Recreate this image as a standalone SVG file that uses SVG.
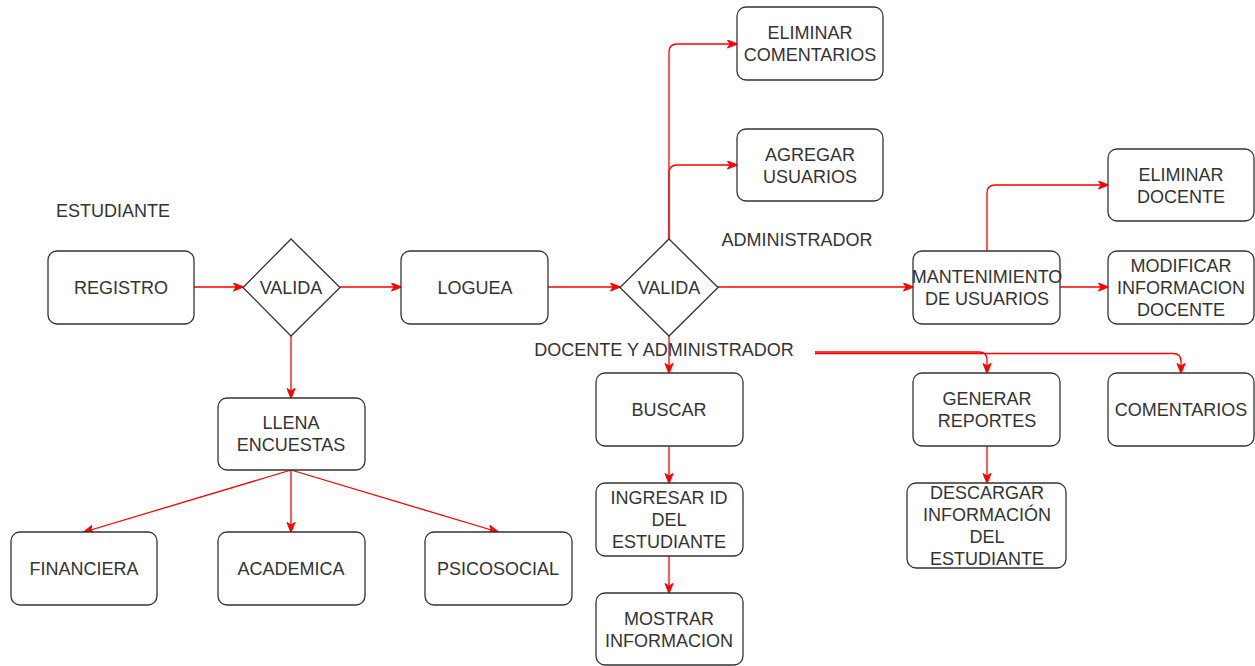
<svg xmlns="http://www.w3.org/2000/svg" width="1255" height="666" viewBox="0 0 1255 666">
<style>
.box{fill:#fff;stroke:#333;stroke-width:1.3}
.t{font-family:"Liberation Sans",Arial,sans-serif;font-size:18px;fill:#333;text-anchor:middle}
.e{fill:none;stroke:#ff0000;stroke-width:1.3;marker-end:url(#arr)}
.ln{fill:none;stroke:#ff0000;stroke-width:1.3}
</style>
<defs>
<marker id="arr" markerWidth="12" markerHeight="10" refX="10" refY="4.5" orient="auto" markerUnits="userSpaceOnUse">
<path d="M0.5,0.5 L10.5,4.5 L0.5,8.5 L3,4.5 z" fill="#ff0000" stroke="#ff0000" stroke-width="1"/>
</marker>
</defs>
<rect width="1255" height="666" fill="#fff"/>

<g id="connectors">
<path class="e" d="M194,287 L243,287"/>
<path class="e" d="M340,287 L401,287"/>
<path class="e" d="M291,336 L291,398"/>
<path class="e" d="M291,470 L84,532"/>
<path class="e" d="M291,470 L291,532"/>
<path class="e" d="M291,470 L498,532"/>
<path class="e" d="M548,287 L620,287"/>
<path class="e" d="M669,239 L669,52 Q669,44 677,44 L737,44"/>
<path class="e" d="M669,239 L669,173 Q669,165 677,165 L737,165"/>
<path class="e" d="M718,287 L913,287"/>
<path class="e" d="M987,251 L987,193 Q987,185 995,185 L1108,185"/>
<path class="e" d="M1060,287 L1108,287"/>
<path class="e" d="M669,336 L669,373"/>
<path class="e" d="M815,352 L979,352 Q987,352 987,360 L987,373"/>
<path class="e" d="M815,353.5 L1173,353.5 Q1181,353.5 1181,361.5 L1181,373"/>
<path class="e" d="M669,446 L669,483"/>
<path class="e" d="M669,556 L669,593"/>
<path class="e" d="M987,446 L987,483"/>
</g>

<g id="lbl-estudiante"><text class="t" x="113" y="217">ESTUDIANTE</text></g>
<g id="lbl-administrador"><text class="t" x="797" y="246">ADMINISTRADOR</text></g>
<g id="lbl-docente-admin"><text class="t" x="664" y="356">DOCENTE Y ADMINISTRADOR</text></g>

<g id="registro"><rect class="box" x="48" y="251" width="146" height="73" rx="9"/><text class="t" x="121" y="294">REGISTRO</text></g>
<g id="valida1"><polygon class="box" points="291,239 340,287.5 291,336 243,287.5"/><text class="t" x="291" y="294">VALIDA</text></g>
<g id="loguea"><rect class="box" x="401" y="251" width="147" height="73" rx="9"/><text class="t" x="475" y="294">LOGUEA</text></g>
<g id="valida2"><polygon class="box" points="669,239 718,287.5 669,336 620,287.5"/><text class="t" x="669" y="294">VALIDA</text></g>
<g id="eliminar-comentarios"><rect class="box" x="737" y="7" width="146" height="73" rx="9"/><text class="t" x="810" y="39">ELIMINAR</text><text class="t" x="810" y="61">COMENTARIOS</text></g>
<g id="agregar-usuarios"><rect class="box" x="737" y="129" width="146" height="72" rx="9"/><text class="t" x="810" y="161">AGREGAR</text><text class="t" x="810" y="183">USUARIOS</text></g>
<g id="mantenimiento"><rect class="box" x="913" y="251" width="147" height="73" rx="9"/><text class="t" x="987" y="283">MANTENIMIENTO</text><text class="t" x="987" y="305">DE USUARIOS</text></g>
<g id="eliminar-docente"><rect class="box" x="1108" y="149" width="146" height="72" rx="9"/><text class="t" x="1181" y="181">ELIMINAR</text><text class="t" x="1181" y="203">DOCENTE</text></g>
<g id="modificar-docente"><rect class="box" x="1108" y="251" width="146" height="73" rx="9"/><text class="t" x="1181" y="272">MODIFICAR</text><text class="t" x="1181" y="294">INFORMACION</text><text class="t" x="1181" y="316">DOCENTE</text></g>
<g id="buscar"><rect class="box" x="596" y="373" width="147" height="73" rx="9"/><text class="t" x="669" y="416">BUSCAR</text></g>
<g id="generar-reportes"><rect class="box" x="913" y="373" width="147" height="73" rx="9"/><text class="t" x="987" y="405">GENERAR</text><text class="t" x="987" y="427">REPORTES</text></g>
<g id="comentarios"><rect class="box" x="1108" y="373" width="146" height="73" rx="9"/><text class="t" x="1181" y="416">COMENTARIOS</text></g>
<g id="ingresar-id"><rect class="box" x="596" y="483" width="147" height="73" rx="9"/><text class="t" x="669" y="504">INGRESAR ID</text><text class="t" x="669" y="526">DEL</text><text class="t" x="669" y="548">ESTUDIANTE</text></g>
<g id="mostrar-info"><rect class="box" x="596" y="593" width="147" height="72" rx="9"/><text class="t" x="669" y="625">MOSTRAR</text><text class="t" x="669" y="647">INFORMACION</text></g>
<g id="descargar-info"><rect class="box" x="907" y="483" width="159" height="85" rx="9"/><text class="t" x="987" y="499">DESCARGAR</text><text class="t" x="987" y="521">INFORMACIÓN</text><text class="t" x="987" y="543">DEL</text><text class="t" x="987" y="565">ESTUDIANTE</text></g>
<g id="llena-encuestas"><rect class="box" x="218" y="398" width="147" height="72" rx="9"/><text class="t" x="291" y="429">LLENA</text><text class="t" x="291" y="451">ENCUESTAS</text></g>
<g id="financiera"><rect class="box" x="11" y="532" width="146" height="73" rx="9"/><text class="t" x="84" y="575">FINANCIERA</text></g>
<g id="academica"><rect class="box" x="218" y="532" width="147" height="73" rx="9"/><text class="t" x="291" y="575">ACADEMICA</text></g>
<g id="psicosocial"><rect class="box" x="425" y="532" width="147" height="73" rx="9"/><text class="t" x="498" y="575">PSICOSOCIAL</text></g>
</svg>
